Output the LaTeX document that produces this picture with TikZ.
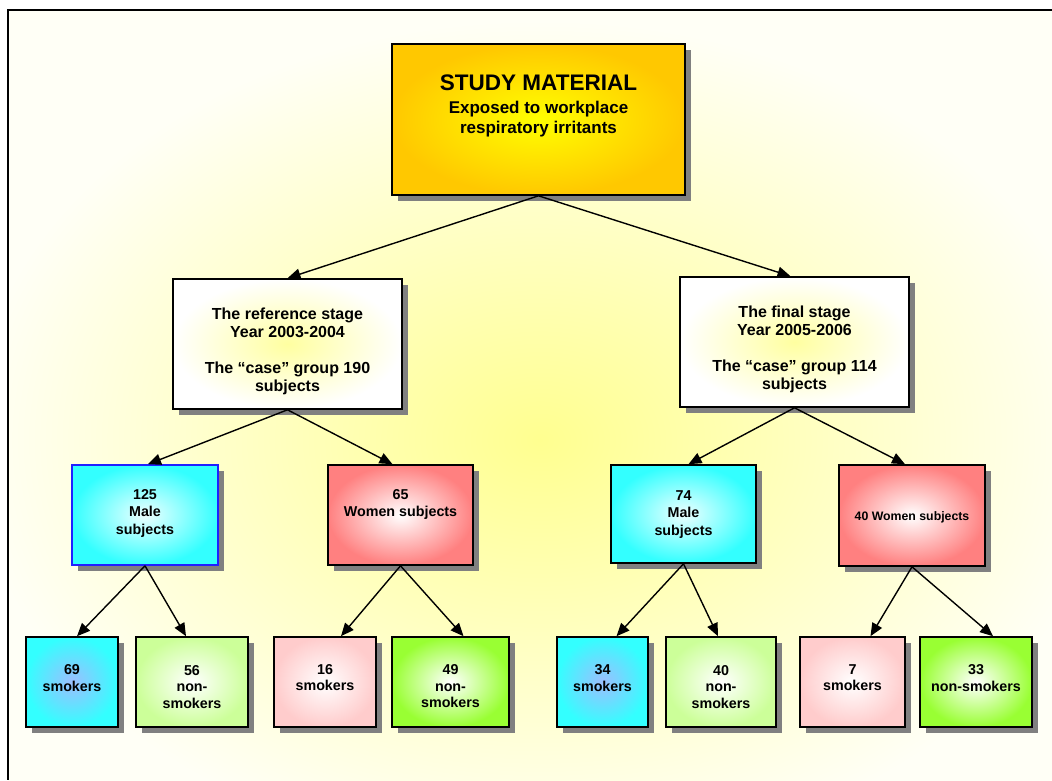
\documentclass[tikz,border=0pt]{standalone}
\usepackage{fontspec}
\setmainfont{Liberation Sans}
\usetikzlibrary{arrows.meta,shadows}
\definecolor{goldout}{HTML}{FFC800}
\definecolor{goldin}{HTML}{FFFF00}
\definecolor{paleyel}{HTML}{FFFFA0}
\definecolor{cream}{HTML}{FFFFF6}
\definecolor{bgcenter}{HTML}{FFFF90}
\definecolor{cyanout}{HTML}{33FFFF}
\definecolor{cyanin}{HTML}{EEFFFF}
\definecolor{blueish}{HTML}{9CBEFF}
\definecolor{pinkout}{HTML}{FF8080}
\definecolor{lpink}{HTML}{FFCCCC}
\definecolor{lgreen}{HTML}{CCFF99}
\definecolor{bgreen}{HTML}{99FF33}
\definecolor{maleblue}{HTML}{2020FF}
\begin{document}
\begin{tikzpicture}[x=1pt,y=-1pt,
  box/.style={draw=black,line width=1.6pt,inner sep=0pt,
    drop shadow={shadow xshift=6pt,shadow yshift=-6pt,fill=black!50,opacity=1}},
  goldbox/.style={box,inner color=goldin,outer color=goldout},
  stagebox/.style={box,inner color=paleyel,outer color=white},
  malebox/.style={box,inner color=cyanin,outer color=cyanout},
  womenbox/.style={box,inner color=white,outer color=pinkout},
  smokbox/.style={box,inner color=blueish,outer color=cyanout},
  lgbox/.style={box,inner color=white,outer color=lgreen},
  pinkbox/.style={box,inner color=white,outer color=lpink},
  greenbox/.style={box,inner color=white,outer color=bgreen},
  txt/.style={font=\bfseries,align=center,inner sep=0pt,text=black},
  titletxt/.style={txt,font=\bfseries\fontsize{17}{20}\selectfont},
  stagetxt/.style={txt,font=\bfseries\fontsize{16}{18}\selectfont},
  smalltxt/.style={txt,font=\bfseries\fontsize{14.3}{17.5}\selectfont},
  leaftxt/.style={txt,font=\bfseries\fontsize{14.3}{16.5}\selectfont},
  arr/.style={-{Triangle[length=13pt,width=11pt]},line width=1.4pt,black}
]
\useasboundingbox (0,0) rectangle (1052,780);
\fill[white] (0,0) rectangle (1052,780);
\begin{scope}
  \clip (8,10) rectangle (1052,780);
  \fill[cream] (8,10) rectangle (1052,780);
  \shade[inner color=bgcenter,outer color=cream] (-30,20) rectangle (1110,860);
\end{scope}
\draw[line width=2pt,black] (1052,10) -- (8,10) -- (8,780);

% boxes
\node[goldbox,minimum width=293pt,minimum height=151pt] (top) at (538.5,119.5) {};
\node[stagebox,minimum width=229pt,minimum height=130pt] (ref) at (287.5,344) {};
\node[stagebox,minimum width=229pt,minimum height=130pt] (fin) at (794.5,342) {};
\node[malebox,draw=maleblue,minimum width=146pt,minimum height=100pt] (m1) at (145,515) {};
\node[womenbox,minimum width=145pt,minimum height=100pt] (w1) at (400.5,515) {};
\node[malebox,minimum width=145pt,minimum height=98pt] (m2) at (683.5,514) {};
\node[womenbox,minimum width=146pt,minimum height=101pt] (w2) at (912,515.5) {};
\node[smokbox,minimum width=92pt,minimum height=90pt] (s1) at (72,682) {};
\node[lgbox,minimum width=112pt,minimum height=90pt] (n1) at (192,682) {};
\node[pinkbox,minimum width=102pt,minimum height=90pt] (s2) at (325,682) {};
\node[greenbox,minimum width=117pt,minimum height=90pt] (n2) at (450.5,682) {};
\node[smokbox,minimum width=91pt,minimum height=90pt] (s3) at (602.5,682) {};
\node[lgbox,minimum width=110pt,minimum height=90pt] (n3) at (721,682) {};
\node[pinkbox,minimum width=105pt,minimum height=90pt] (s4) at (852.5,682) {};
\node[greenbox,minimum width=112pt,minimum height=90pt] (n4) at (976,682) {};

% texts
\node[titletxt] (topt) at (538.5,106) {{\fontsize{22.5}{26}\selectfont STUDY MATERIAL}\\[3pt]
  Exposed to workplace\\respiratory irritants};
\node[stagetxt] (reft) at (287.5,351) {The reference stage\\Year 2003-2004\\[18pt]The “case” group 190\\subjects};
\node[stagetxt] (fint) at (794.5,349) {The final stage\\Year 2005-2006\\[18pt]The “case” group 114\\subjects};
\node[smalltxt] (m1t) at (145,513) {125\\Male\\subjects};
\node[smalltxt] (w1t) at (400.5,504.5) {65\\Women subjects};
\node[smalltxt] (m2t) at (683.5,514.5) {74\\Male\\subjects};
\node[txt,font=\bfseries\fontsize{12.3}{15}\selectfont] (w2t) at (912,517) {40 Women subjects};
\node[leaftxt] (s1t) at (72,678) {69\\smokers};
\node[leaftxt] (n1t) at (192,687) {56\\non-\\smokers};
\node[leaftxt] (s2t) at (325,677.5) {16\\smokers};
\node[leaftxt] (n2t) at (450.5,686.5) {49\\non-\\smokers};
\node[leaftxt] (s3t) at (602.5,678) {34\\smokers};
\node[leaftxt] (n3t) at (721,687) {40\\non-\\smokers};
\node[leaftxt] (s4t) at (852.5,677.5) {7\\smokers};
\node[leaftxt] (n4t) at (976,678) {33\\non-smokers};

% arrows
\draw[arr] (top.south) -- (ref.north);
\draw[arr] (top.south) -- ([xshift=-4pt]fin.north);
\draw[arr] (ref.south) -- ([xshift=3pt]m1.north);
\draw[arr] (ref.south) -- ([xshift=-8pt]w1.north);
\draw[arr] (fin.south) -- ([xshift=5pt]m2.north);
\draw[arr] (fin.south) -- ([xshift=-7pt]w2.north);
\draw[arr] (m1.south) -- ([xshift=5pt]s1.north);
\draw[arr] (m1.south) -- ([xshift=-6pt]n1.north);
\draw[arr] (w1.south) -- ([xshift=16pt]s2.north);
\draw[arr] (w1.south) -- ([xshift=13pt]n2.north);
\draw[arr] (m2.south) -- ([xshift=14pt]s3.north);
\draw[arr] (m2.south) -- ([xshift=-3pt]n3.north);
\draw[arr] (w2.south) -- ([xshift=18pt]s4.north);
\draw[arr] (w2.south) -- ([xshift=17pt]n4.north);
\end{tikzpicture}
\end{document}
